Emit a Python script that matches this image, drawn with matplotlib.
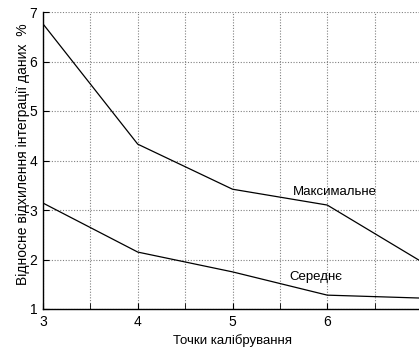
import matplotlib
matplotlib.use("Agg")
import matplotlib.pyplot as plt
from matplotlib.ticker import MultipleLocator

plt.rcParams['font.family'] = ['Liberation Sans', 'DejaVu Sans']

points = [3, 4, 5, 6, 7]
max_dev = [6.76, 4.33, 3.42, 3.10, 1.95]
avg_dev = [3.14, 2.15, 1.75, 1.28, 1.22]

label_max = "Максимальне"
label_avg = "Середнє"

fig = plt.figure(figsize=(4.19, 3.49), dpi=100)
ax = fig.add_axes([43 / 419, 1 - 309 / 349, (422 - 43) / 419, (309 - 12) / 349])

ax.plot(points, max_dev, color='black', linewidth=0.9)
ax.plot(points, avg_dev, color='black', linewidth=0.9)

ax.text(5.64, 3.36, label_max, fontsize=9.5, va='center', ha='left')
ax.text(5.60, 1.65, label_avg, fontsize=9.5, va='center', ha='left')

ax.set_xlim(3, 7)
ax.set_ylim(1, 7)
ax.xaxis.set_major_locator(MultipleLocator(1))
ax.xaxis.set_minor_locator(MultipleLocator(0.5))
ax.yaxis.set_major_locator(MultipleLocator(1))

ax.grid(True, which='both', axis='x', color='gray', linestyle=(0, (1, 1.5)), linewidth=0.8)
ax.grid(True, which='major', axis='y', color='gray', linestyle=(0, (1, 1.5)), linewidth=0.8)

ax.spines['top'].set_visible(False)
ax.spines['right'].set_visible(False)
ax.spines['left'].set_linewidth(1.0)
ax.spines['bottom'].set_linewidth(1.0)

ax.tick_params(which='both', direction='in', length=4, labelsize=10, pad=4)
ax.tick_params(which='minor', labelbottom=False)

ax.set_xlabel("Точки калібрування", fontsize=9.5, labelpad=4)
ax.set_ylabel("Відносне відхилення інтеграції даних  %", fontsize=10)
ax.yaxis.set_label_coords(-0.035, 0.52)

fig.savefig("out.png", dpi=100)
